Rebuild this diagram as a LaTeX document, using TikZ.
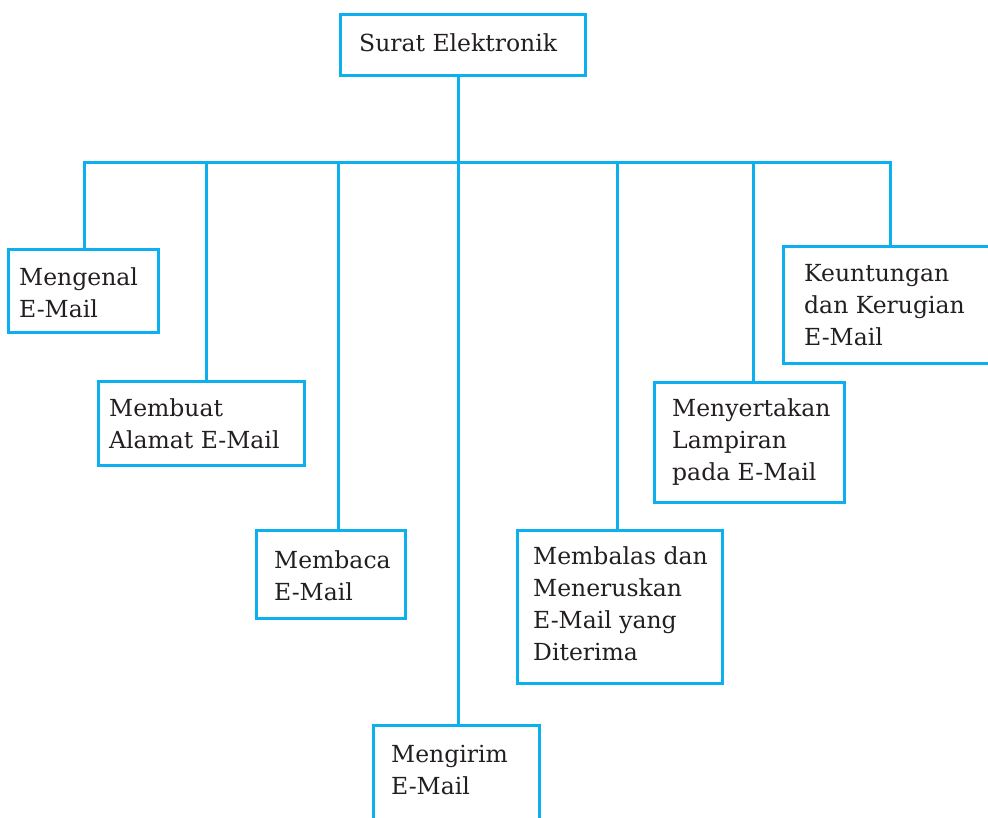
\documentclass[tikz,border=0pt]{standalone}
\usepackage{fontspec}
\setmainfont{DejaVu Serif}
\usetikzlibrary{fit}
\definecolor{lineblue}{HTML}{0DB0EE}
\definecolor{txt}{HTML}{231F20}
\begin{document}
\begin{tikzpicture}[x=1pt,y=-1pt,
  box/.style={draw=lineblue,line width=3pt,inner sep=0pt,rectangle},
  conn/.style={draw=lineblue,line width=3pt},
  lbl/.style={anchor=base west,inner sep=0pt,align=left,text=txt,
    font=\fontsize{23.5}{31.8}\selectfont}]
\useasboundingbox (0,0) rectangle (988,817);
\clip (0,0) rectangle (988,817);
% boxes
\node[box,fit={(340,14) (585,75)}] (top) {};
\node[box,fit={(8,249) (158,332)}] (b1) {};
\node[box,fit={(98,381) (304,465)}] (b2) {};
\node[box,fit={(256,530) (405,618)}] (b3) {};
\node[box,fit={(373,725) (539,840)}] (b4) {};
\node[box,fit={(517,530) (722,683)}] (b5) {};
\node[box,fit={(654,382) (844,502)}] (b6) {};
\node[box,fit={(783,246) (1010,363)}] (b7) {};
% texts (anchored at the baseline of the last line)
\node[lbl] (t0) at (359,51) {Surat Elektronik};
\node[lbl] (t1) at (19,317) {Mengenal\\E-Mail};
\node[lbl] (t2) at (109,448) {Membuat\\Alamat E-Mail};
\node[lbl] (t3) at (274,600) {Membaca\\E-Mail};
\node[lbl] (t4) at (391,794) {Mengirim\\E-Mail};
\node[lbl] (t5) at (533,660) {Membalas dan\\Meneruskan\\E-Mail yang\\Diterima};
\node[lbl] (t6) at (672,480) {Menyertakan\\Lampiran\\pada E-Mail};
\node[lbl] (t7) at (804,345) {Keuntungan\\dan Kerugian\\E-Mail};
% connectors
\coordinate (j0) at (458,162);
\coordinate (j1) at (84,162);
\coordinate (j2) at (206,162);
\coordinate (j3) at (338,162);
\coordinate (j4) at (458,162);
\coordinate (j5) at (617,162);
\coordinate (j6) at (753,162);
\coordinate (j7) at (890,162);
\draw[conn] (j0 |- top.south) -- (j0);
\draw[conn] ([xshift=-1.5pt]j1) -- ([xshift=1.5pt]j7);
\draw[conn] (j1) -- (j1 |- b1.north);
\draw[conn] (j2) -- (j2 |- b2.north);
\draw[conn] (j3) -- (j3 |- b3.north);
\draw[conn] (j4) -- (j4 |- b4.north);
\draw[conn] (j5) -- (j5 |- b5.north);
\draw[conn] (j6) -- (j6 |- b6.north);
\draw[conn] (j7) -- (j7 |- b7.north);
\end{tikzpicture}
\end{document}
